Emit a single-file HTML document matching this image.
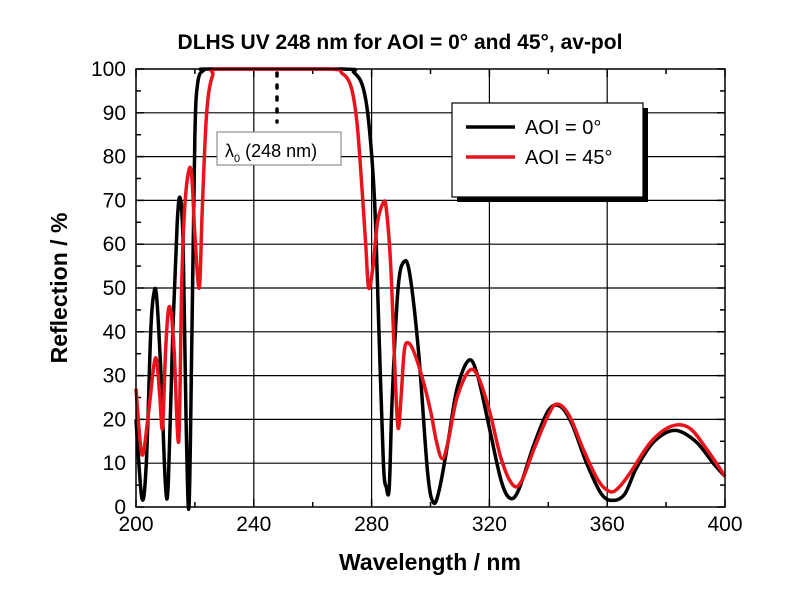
<!DOCTYPE html>
<html><head><meta charset="utf-8"><style>
body{margin:0;background:#fff;}
svg{display:block;font-family:"Liberation Sans",Arial,sans-serif;}
</style></head><body>
<svg id="s" width="800" height="600" viewBox="0 0 800 600">
<rect width="800" height="600" fill="#fff"/>
<text x="400" y="49" text-anchor="middle" font-size="21" font-weight="bold">DLHS UV 248 nm for AOI = 0° and 45°, av-pol</text>
<g id="grid" stroke="#000" stroke-width="1.2"></g>
<g id="ticks" stroke="#000" stroke-width="1.5"></g>
<g id="lab" font-size="21" fill="#000"></g>
<text x="430" y="570" text-anchor="middle" font-size="23" font-weight="bold">Wavelength / nm</text>
<text transform="translate(67,288) rotate(-90)" text-anchor="middle" font-size="23" font-weight="bold">Reflection / %</text>
<path id="pk" fill="none" stroke="#000" stroke-width="3.5" stroke-linejoin="round"/>
<path id="pr" fill="none" stroke="#e8141c" stroke-width="3.5" stroke-linejoin="round"/>
<line x1="277" y1="73" x2="277" y2="122" stroke="#000" stroke-width="3.5" stroke-dasharray="3,9" stroke-linecap="round"/>
<rect x="217" y="132" width="124" height="33" fill="#fff" stroke="#777" stroke-width="1"/>
<text x="225" y="157" font-size="18">λ<tspan font-size="11" dy="5">0</tspan><tspan dy="-5"> (248 nm)</tspan></text>
<rect x="457" y="108" width="191" height="94" fill="#000"/>
<rect x="452" y="103" width="191" height="94" fill="#fff" stroke="#000" stroke-width="1.2"/>
<line x1="466" y1="127" x2="515" y2="127" stroke="#000" stroke-width="3.5"/>
<line x1="466" y1="157" x2="515" y2="157" stroke="#e8141c" stroke-width="3.5"/>
<text x="525" y="134" font-size="20">AOI = 0°</text>
<text x="525" y="164" font-size="20">AOI = 45°</text>
<rect x="136" y="69" width="589" height="438" fill="none" stroke="#000" stroke-width="1.5"/>
</svg>
<script>
var X=function(l){return 136+(l-200)*2.945},Y=function(r){return 507-r*4.38};
var ns="http://www.w3.org/2000/svg";
function el(p,t,a,txt){var e=document.createElementNS(ns,t);for(var k in a)e.setAttribute(k,a[k]);if(txt)e.textContent=txt;document.getElementById(p).appendChild(e);}
for(var l=240;l<400;l+=40)el("grid","line",{x1:X(l),x2:X(l),y1:69,y2:507});
for(var r=10;r<100;r+=10)el("grid","line",{x1:136,x2:725,y1:Y(r),y2:Y(r)});
for(var l=200;l<=400;l+=20){var m=(l%40==0)?8:5;el("ticks","line",{x1:X(l),x2:X(l),y1:507,y2:507-m});el("ticks","line",{x1:X(l),x2:X(l),y1:69,y2:69+m});}
for(var r=0;r<=100;r+=5){var m=(r%10==0)?8:5;el("ticks","line",{x1:136,x2:136+m,y1:Y(r),y2:Y(r)});el("ticks","line",{x1:725,x2:725-m,y1:Y(r),y2:Y(r)});}
for(var l=200;l<=400;l+=40)el("lab","text",{x:X(l),y:531,"text-anchor":"middle"},""+l);
for(var r=0;r<=100;r+=10)el("lab","text",{x:126,y:Y(r)+7,"text-anchor":"end"},""+r);
function path(d){var p=d.map(function(a){return[X(a[0]),Y(a[1])]});var s="M"+p[0][0]+","+p[0][1];
for(var i=0;i<p.length-1;i++){var p0=p[i-1]||p[i],p1=p[i],p2=p[i+1],p3=p[i+2]||p2,t=6;
var c1y=Math.max(69,p1[1]+(p2[1]-p0[1])/t),c2y=Math.max(69,p2[1]-(p3[1]-p1[1])/t);
s+=" C"+(p1[0]+(p2[0]-p0[0])/t)+","+c1y+" "+(p2[0]-(p3[0]-p1[0])/t)+","+c2y+" "+p2[0]+","+p2[1];}return s;}
var K=[[200,20],[202,2],[203.5,10],[205,40],[206,48.5],[207,48],[208.5,30],[210,5],[211,6],[212.5,40],[214,65],[215,70.5],[216,60],[217,20],[218,0],[219,40],[220,85],[221,97],[223,99.7],[226,100],[270,100],[274,99.2],[277,96],[279,88],[281,70],[282.5,40],[284,10],[285,4.5],[286,4.5],[287,25],[289,50],[291,56],[293,53],[296,35],[299,8],[301,1],[303,4],[306,15],[309,27],[313,33.5],[316,30],[320,18],[324,6],[327,2],[330,4],[335,14],[340,22],[344,23],[348,19],[353,10],[358,3],[362,1.5],[366,3],[370,9],[376,15],[383,17.5],[390,15],[396,10],[400,7]];
var R=[[200,27],[202,12],[204,20],[206,32],[207,33.5],[208,26],[209,18],[210,35],[211,45],[212,44],[213,35],[214.5,15],[215.5,50],[216.5,68],[218,77],[219,75],[220,62],[221.5,50],[222.5,68],[224,90],[226,98.5],[229,100],[265,100],[270,99],[273,96],[275,88],[276.5,75],[278,60],[279,50],[280.5,55],[282,65],[284,69.5],[285,68],[286.5,55],[288,30],[289,18],[290,25],[291,35],[292,37.5],[294,36],[297,30],[300,22],[302,15],[304,11],[306,15],[309,25],[313,31],[316,30],[320,22],[324,11],[328,5],[331,6],[335,13],[340,21],[343,23.5],[347,21],[352,13],[357,6],[361,3.5],[364,4.5],[368,8],[375,15],[382,18.5],[388,18],[394,13],[400,7]];
document.getElementById("pk").setAttribute("d",path(K));
document.getElementById("pr").setAttribute("d",path(R));
</script>
</body></html>
